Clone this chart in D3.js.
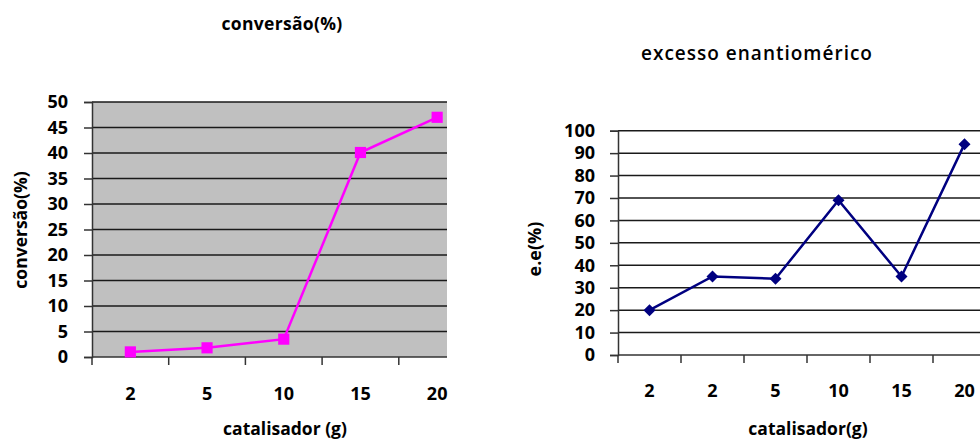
<!DOCTYPE html>
<html><head><meta charset="utf-8">
<script src="https://cdn.jsdelivr.net/npm/d3@7"></script>
<style>body{margin:0;background:#fff;overflow:hidden}text{font-family:"Open Sans",sans-serif;font-weight:700;fill:#000}</style>
</head><body>
<script>
const convCategories = ["2","5","10","15","20"];
const convValues = [1.0, 1.8, 3.5, 40.1, 47.0];
const convTicks = [0,5,10,15,20,25,30,35,40,45,50];
const eeCategories = ["2","2","5","10","15","20"];
const eeValues = [20, 35, 34, 69, 35, 94];
const eeTicks = [0,10,20,30,40,50,60,70,80,90,100];

const W = 980, H = 441;
const svg = d3.select("body").append("svg").attr("width", W).attr("height", H);
const defs = svg.append("defs");

function chart(o){
  const g = svg.append("g");
  const x = d3.scaleBand().domain(o.cats.map((d,i)=>i)).range([o.x0, o.x0 + o.band*o.cats.length]);
  const y = d3.scaleLinear().domain([0, o.ymax]).range([o.yb, o.yt]);
  defs.append("clipPath").attr("id", o.id).append("rect")
    .attr("x", o.x0).attr("y", o.yt-10).attr("width", o.clipR - o.x0).attr("height", o.yb - o.yt + 20);
  g.append("rect").attr("x", o.x0).attr("y", o.yt).attr("width", o.clipR - o.x0).attr("height", o.yb - o.yt).attr("fill", o.bg);
  g.selectAll(".grid").data(o.ticks.filter(t=>t>0)).join("line")
    .attr("x1", o.x0).attr("x2", o.clipR).attr("y1", d=>y(d)).attr("y2", d=>y(d))
    .attr("stroke", "#1a1a1a").attr("stroke-width", 1.5);
  const ya = g.append("g").attr("transform", `translate(${o.x0},0)`)
    .call(d3.axisLeft(y).tickValues(o.ticks).tickSize(8).tickPadding(o.ypad));
  ya.select(".domain").attr("stroke", "#333").attr("stroke-width", 1.5);
  ya.selectAll(".tick line").attr("stroke", "#333").attr("stroke-width", 1.5);
  ya.attr("font-family", null).attr("font-size", null);
  ya.selectAll(".tick text").style("font-size", "18px");
  g.append("line").attr("x1", o.x0).attr("x2", o.clipR).attr("y1", o.yb).attr("y2", o.yb).attr("stroke", "#333").attr("stroke-width", 1.5);
  const edges = o.cats.map((d,i)=>x(i)).concat([o.x0 + o.band*o.cats.length]).filter(v=>v<=o.clipR);
  g.selectAll(".xt").data(edges).join("line")
    .attr("x1", d=>d).attr("x2", d=>d).attr("y1", o.yb).attr("y2", o.yb+8)
    .attr("stroke", "#333").attr("stroke-width", 1.5);
  g.selectAll(".xl").data(o.cats).join("text")
    .attr("x", (d,i)=>x(i)+x.bandwidth()/2).attr("y", o.xly)
    .attr("text-anchor", "middle").style("font-size", "18px").text(d=>d);
  const cx = i => x(i)+x.bandwidth()/2;
  const pg = g.append("g").attr("clip-path", `url(#${o.id})`);
  pg.append("path").datum(o.vals)
    .attr("d", d3.line().x((d,i)=>cx(i)).y(d=>y(d)))
    .attr("fill", "none").attr("stroke", o.color).attr("stroke-width", 2.5);
  pg.selectAll(".m").data(o.vals).join("path")
    .attr("transform", (d,i)=>`translate(${cx(i)},${y(d)}) rotate(${o.rot})`)
    .attr("d", d3.symbol().type(d3.symbolSquare).size(o.symSize))
    .attr("fill", o.color);
  g.append("text").attr("x", o.tx).attr("y", o.ty).attr("text-anchor","middle")
    .style("font-size", o.tsize).style("font-weight", o.tw).style("letter-spacing", o.tls).text(o.title);
  g.append("text").attr("transform", `translate(${o.ylx},${o.yly}) rotate(-90)`).attr("text-anchor","middle")
    .style("font-size", o.ylsize).text(o.ylabel);
  g.append("text").attr("x", o.xlx).attr("y", o.xlyy).attr("text-anchor","middle")
    .style("font-size", "17.5px").text(o.xlabel);
}

chart({id:"c1", cats:convCategories, vals:convValues, ticks:convTicks, ymax:50,
  x0:92, band:76.7, clipR:447, yt:102, yb:357, bg:"#c0c0c0", ypad:16, xly:400,
  color:"#ff00ff", rot:0, symSize:125,
  title:"conversão(%)", tx:282, ty:30, tw:700, tsize:"17.5px", tls:"0.3px",
  ylabel:"conversão(%)", ylx:27, yly:230, ylsize:"17.5px",
  xlabel:"catalisador (g)", xlx:285, xlyy:435});

chart({id:"c2", cats:eeCategories, vals:eeValues, ticks:eeTicks, ymax:100,
  x0:618, band:63, clipR:980, yt:130.7, yb:355, bg:"#ffffff", ypad:15, xly:397,
  color:"#000080", rot:45, symSize:72,
  title:"excesso enantiomérico", tx:757, ty:60, tw:600, tsize:"19px", tls:"1px",
  ylabel:"e.e(%)", ylx:541, yly:249, ylsize:"18px",
  xlabel:"catalisador(g)", xlx:808, xlyy:435});
</script>
</body></html>
